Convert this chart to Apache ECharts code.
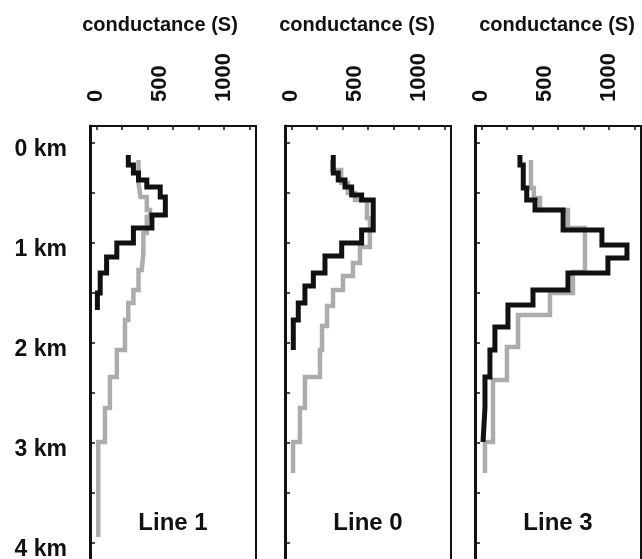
<!DOCTYPE html>
<html>
<head>
<meta charset="utf-8">
<style>
  html, body { margin: 0; padding: 0; background: #fff; }
  #profiles { width: 642px; height: 559px; }
</style>
<script src="https://cdn.jsdelivr.net/npm/echarts/dist/echarts.min.js"></script>
</head>
<body>
<div id="profiles"></div>
<script>
// labels
var panelNames = ['Line 1', 'Line 0', 'Line 3'];
var axisTitle = 'conductance (S)';
var depthTicks = [0, 1, 2, 3, 4];
var depthMinorTicks = [0, 0.5, 1, 1.5, 2, 2.5, 3, 3.5, 4];
var condLabels = [0, 500, 1000];
var condTicks = [0, 200, 400, 600, 800, 1000, 1200];

// Line 1 (depth boundaries in km, conductance per layer in S)
var line1BlackDepth = [0.12, 0.22, 0.30, 0.37, 0.44, 0.54, 0.72, 0.85, 1.00, 1.14, 1.30, 1.50, 1.67];
var line1Black = [250, 290, 330, 395, 500, 540, 435, 290, 160, 80, 30, 8];
var line1GrayDepth = [0.17, 0.40, 0.54, 0.67, 0.74, 0.90, 1.10, 1.27, 1.47, 1.60, 1.77, 2.07, 2.34, 2.65, 2.99, 3.94];
var line1Gray = [330, 345, 395, 420, 395, 368, 355, 330, 290, 250, 224, 160, 106, 67, 15];

// Line 0
var line0BlackDepth = [0.12, 0.30, 0.37, 0.44, 0.52, 0.57, 0.87, 1.00, 1.13, 1.30, 1.43, 1.60, 1.77, 2.07];
var line0Black = [328, 367, 420, 472, 550, 641, 550, 394, 263, 172, 106, 54, 15];
var line0GrayDepth = [0.17, 0.27, 0.40, 0.50, 0.57, 0.75, 1.04, 1.20, 1.33, 1.47, 1.63, 1.83, 2.07, 2.34, 2.65, 2.99, 3.30];
var line0Gray = [320, 390, 443, 498, 592, 615, 537, 482, 404, 326, 279, 240, 224, 106, 67, 13];

// Line 3
var line3BlackDepth = [0.12, 0.22, 0.45, 0.57, 0.67, 0.87, 1.02, 1.15, 1.30, 1.47, 1.62, 1.84, 2.07, 2.34, 2.65, 2.99];
var line3Black = [302, 328, 355, 420, 640, 944, 1140, 991, 678, 404, 208, 106, 67, 28, 13];
var line3GrayDepth = [0.17, 0.45, 0.55, 0.67, 0.85, 1.29, 1.50, 1.72, 2.04, 2.37, 2.99, 3.30];
var line3Gray = [388, 411, 459, 678, 811, 717, 537, 287, 200, 91, 28];

var blackDepths = [line1BlackDepth, line0BlackDepth, line3BlackDepth];
var blackValues = [line1Black, line0Black, line3Black];
var grayDepths = [line1GrayDepth, line0GrayDepth, line3GrayDepth];
var grayValues = [line1Gray, line0Gray, line3Gray];

// turn layer values into a staircase profile
function stairs(depths, values) {
    var pts = [];
    values.forEach(function (v, i) {
        pts.push([v, depths[i]]);
        pts.push([v, depths[i + 1]]);
    });
    return pts;
}

var myChart = echarts.init(document.getElementById('profiles'));

var font = '"Liberation Sans", Arial, Helvetica, sans-serif';
var ink = '#111';
var grayInk = '#acacac';
var panelLeft = [90, 285, 475];
var panelWidth = 166;
var titleX = [160, 357, 557];

var grids = [], xAxes = [], yAxes = [], series = [], graphics = [];

panelLeft.forEach(function (left, i) {
    grids.push({
        show: false,
        left: left,
        top: 126,
        width: panelWidth,
        bottom: 0,
        outerBoundsMode: 'none',
        containLabel: false
    });
    xAxes.push({
        type: 'value',
        gridIndex: i,
        position: 'top',
        min: -50,
        max: 1250,
        axisLine: { show: true, onZero: false, lineStyle: { color: ink, width: 2 } },
        axisTick: {
            show: true,
            inside: true,
            length: 4,
            customValues: condTicks,
            lineStyle: { color: ink, width: 1.5 }
        },
        axisLabel: {
            show: true,
            customValues: condLabels,
            formatter: function (v) { return String(v); },
            rotate: -90,
            margin: 24,
            color: ink,
            fontFamily: font,
            fontWeight: 'bold',
            fontSize: 22
        },
        splitLine: { show: false }
    });
    // left depth axis
    yAxes.push({
        type: 'value',
        gridIndex: i,
        inverse: true,
        position: 'left',
        min: -0.17,
        max: 4.16,
        axisLine: { show: true, onZero: false, lineStyle: { color: ink, width: 3 } },
        axisTick: {
            show: true,
            inside: true,
            length: 5,
            customValues: depthMinorTicks,
            lineStyle: { color: ink, width: 1.5 }
        },
        axisLabel: {
            show: i === 0,
            customValues: depthTicks,
            formatter: function (v) { return '{km|' + v + ' km}'; },
            margin: 23,
            rich: {
                km: {
                    padding: [14, 0, 0, 0],
                    color: ink,
                    fontFamily: font,
                    fontWeight: 'bold',
                    fontSize: 23
                }
            }
        },
        splitLine: { show: false }
    });
    // right frame edge
    yAxes.push({
        type: 'value',
        gridIndex: i,
        inverse: true,
        position: 'right',
        min: -0.17,
        max: 4.16,
        axisLine: { show: true, onZero: false, lineStyle: { color: ink, width: 2 } },
        axisTick: { show: false },
        axisLabel: { show: false },
        splitLine: { show: false }
    });
    series.push({
        type: 'line',
        xAxisIndex: i,
        yAxisIndex: i * 2,
        showSymbol: false,
        lineStyle: { color: grayInk, width: 4.5, cap: 'butt', join: 'miter' },
        data: stairs(grayDepths[i], grayValues[i]),
        z: 2
    });
    series.push({
        type: 'line',
        xAxisIndex: i,
        yAxisIndex: i * 2,
        showSymbol: false,
        lineStyle: { color: ink, width: 5, cap: 'butt', join: 'miter' },
        data: stairs(blackDepths[i], blackValues[i]),
        z: 3
    });
    graphics.push({
        type: 'text',
        x: titleX[i],
        y: 25,
        style: {
            text: axisTitle,
            fill: ink,
            font: 'bold 20px ' + font,
            align: 'center',
            verticalAlign: 'middle'
        }
    });
    graphics.push({
        type: 'text',
        x: left + panelWidth / 2,
        y: 523,
        style: {
            text: panelNames[i],
            fill: ink,
            font: 'bold 24px ' + font,
            align: 'center',
            verticalAlign: 'middle'
        }
    });
});

var option = {
    animation: false,
    backgroundColor: '#fff',
    grid: grids,
    xAxis: xAxes,
    yAxis: yAxes,
    series: series,
    graphic: graphics
};

myChart.setOption(option);
</script>
</body>
</html>
